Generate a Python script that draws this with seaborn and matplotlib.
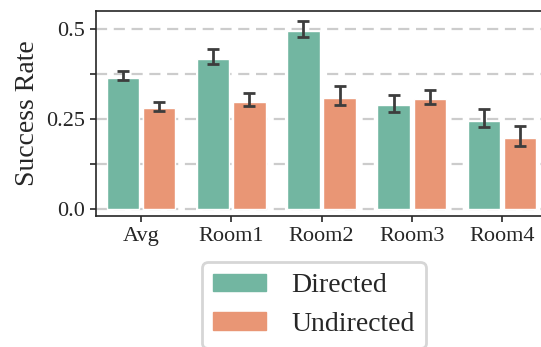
import pandas as pd
import numpy as np
import seaborn as sns
import matplotlib.pyplot as plt

# values
rooms = ['Avg', 'Room1', 'Room2', 'Room3', 'Room4']
methods = ['Directed', 'Undirected']
directed = [0.364, 0.418, 0.496, 0.289, 0.246]
directed_lo = [0.358, 0.404, 0.479, 0.270, 0.228]
directed_hi = [0.383, 0.444, 0.524, 0.318, 0.278]
undirected = [0.280, 0.299, 0.310, 0.306, 0.198]
undirected_lo = [0.273, 0.287, 0.290, 0.291, 0.176]
undirected_hi = [0.298, 0.323, 0.342, 0.332, 0.230]

data = pd.DataFrame({
    'Room': rooms * 2,
    'Method': ['Directed'] * 5 + ['Undirected'] * 5,
    'Success Rate': directed + undirected,
})

sns.set_theme(style='ticks')
plt.rcParams['font.family'] = ['Liberation Serif', 'DejaVu Serif']

fig = plt.figure(figsize=(5.41, 3.47), dpi=100)
ax = fig.add_axes([96 / 541, 131 / 347, 451 / 541, 205 / 347])

sns.barplot(data=data, x='Room', y='Success Rate', hue='Method', order=rooms,
            hue_order=methods, palette='Set2', gap=0.1, errorbar=None,
            legend=False, ax=ax, zorder=3)

# error bars at the bar centres
offsets = [-0.2, 0.2]
for off, mid, lo, hi in [(offsets[0], directed, directed_lo, directed_hi),
                         (offsets[1], undirected, undirected_lo, undirected_hi)]:
    xs = np.arange(len(rooms)) + off
    yerr = [np.array(mid) - np.array(lo), np.array(hi) - np.array(mid)]
    ax.errorbar(xs, mid, yerr=yerr, fmt='none', ecolor='#3d3d3d',
                elinewidth=2, capsize=4.5, capthick=2, zorder=4)

ax.set_ylim(-0.0195, 0.551)
ax.set_xlim(-0.5, 4.5)
ax.set_yticks([0.0, 0.125, 0.25, 0.375, 0.5])
ax.set_yticklabels(['0.0', '', '0.25', '', '0.5'])
ax.yaxis.grid(True, linestyle=(0, (5, 3)), color='#cccccc', linewidth=1.6, zorder=0)
ax.set_axisbelow(True)
ax.set_xlabel('')
ax.set_ylabel('Success Rate', fontsize=20)
ax.tick_params(labelsize=16, length=4.5, width=1.2, color='#262626')
for s in ax.spines.values():
    s.set_color('#262626')
    s.set_linewidth(1.2)

handles = [plt.Rectangle((0, 0), 1, 1, color=c) for c in sns.color_palette('Set2', 2, desat=0.75)]
leg = fig.legend(handles, methods, loc='upper center', bbox_to_anchor=(314 / 541, 1 - 262 / 347),
                 borderaxespad=0, fontsize=20, handlelength=1.9, handleheight=0.6,
                 handletextpad=0.9, frameon=True, edgecolor='#cccccc', fancybox=True)
leg.get_frame().set_linewidth(2)

plt.savefig('out.png', dpi=100)
